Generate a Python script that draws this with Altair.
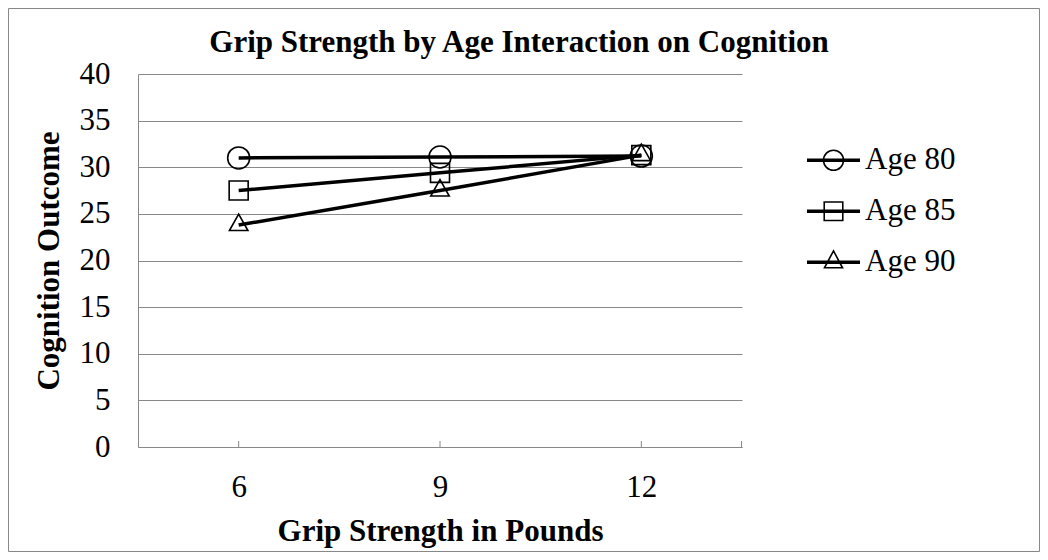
import altair as alt
import pandas as pd

# ---- data ----
grip = [6, 9, 12]
series = ["Age 80", "Age 85", "Age 90"]
age80 = [31.0, 31.1, 31.2]
age85 = [27.5, 29.4, 31.3]
age90 = [23.8, 27.5, 31.3]
y_ticks = [0, 5, 10, 15, 20, 25, 30, 35, 40]

rows = []
for s, vals in zip(series, [age80, age85, age90]):
    for g, v in zip(grip, vals):
        rows.append({"grip": g, "series": s, "value": v})
df = pd.DataFrame(rows)
tick_df = pd.DataFrame({"grip": grip})

# ---- layout ----
W, H = 604, 373
PL, PT, PR, PB = 130, 66, 298, 105
GRAY = "#888888"
FONT = "Liberation Serif"

# marker shapes (unit box, size 484 -> 11 px per unit)
marker_paths = [
    "M1,0A1,1 0 1,1 -1,0A1,1 0 1,1 1,0Z",
    "M-0.864,-0.864L0.864,-0.864L0.864,0.864L-0.864,0.864Z",
    "M0,-1L0.84,0.5L-0.84,0.5Z",
]
# legend symbols: line + marker (size 2809 -> 26.5 px per unit)
LINE = "M-1,0L1,0M-1,-0.035L1,-0.035M-1,0.035L1,0.035"
legend_paths = [
    LINE + "M0.377,0A0.377,0.377 0 1,1 -0.377,0A0.377,0.377 0 1,1 0.377,0Z",
    LINE + "M-0.35,-0.35L0.35,-0.35L0.35,0.35L-0.35,0.35Z",
    LINE + "M0,-0.43L0.34,0.21L-0.34,0.21Z",
]

x_enc = alt.X(
    "grip:O",
    scale=alt.Scale(type="point", padding=0.5),
    axis=alt.Axis(
        title="Grip Strength in Pounds",
        labelAngle=0,
        grid=False,
        ticks=False,
        tickSize=0,
        domainColor=GRAY,
        domainWidth=1,
        labelFontSize=31,
        labelColor="black",
        labelBaseline="alphabetic",
        labelPadding=49,
        titleFontSize=31,
        titleFontWeight="bold",
        titleColor="black",
        titleBaseline="alphabetic",
        titleY=93,
        titleX=W / 2,
    ),
)
y_axis = alt.Axis(
    title="Cognition Outcome",
    values=y_ticks,
    grid=True,
    ticks=False,
    tickSize=0,
    domainColor=GRAY,
    domainWidth=1,
    gridColor=GRAY,
    gridWidth=1,
    gridOpacity=1,
    labelFontSize=31,
    labelColor="black",
    labelPadding=28,
    titleFontSize=31,
    titleFontWeight="bold",
    titleColor="black",
    titleAngle=-90,
    titleBaseline="alphabetic",
    titleX=-80,
    titleY=H / 2,
)
y_enc = alt.Y("value:Q", scale=alt.Scale(domain=[0, 40]), axis=y_axis)

frame = alt.Chart(alt.Data(values=[{"k": 1}])).mark_rect(
    fill="transparent", stroke=GRAY, strokeWidth=1
).encode(
    x=alt.value(-PL + 0.5),
    x2=alt.value(W + PR - 0.5),
    y=alt.value(-PT + 0.5),
    y2=alt.value(H + PB - 0.5),
)

lines = alt.Chart(df).mark_line(color="black", strokeWidth=3.5).encode(
    x=x_enc, y=y_enc, detail="series:N"
)

ticks = alt.Chart(tick_df).mark_rule(color=GRAY, strokeWidth=1).encode(
    x=x_enc, y=alt.datum(0), y2=alt.datum(0.64)
)
end_tick = alt.Chart(tick_df).mark_rule(color=GRAY, strokeWidth=1).encode(
    x=alt.value(W - 0.5), y=alt.datum(0), y2=alt.datum(0.64)
)

points = alt.Chart(df).mark_point(
    filled=False, color="black", strokeWidth=1.6, size=484, opacity=1
).encode(
    x=x_enc,
    y=y_enc,
    shape=alt.Shape(
        "series:N",
        scale=alt.Scale(domain=series, range=marker_paths),
        legend=None,
    ),
)

legend_layer = alt.Chart(df).transform_filter("datum.value < -1000").mark_point(
    filled=False, color="black", strokeWidth=1.6
).encode(
    x=x_enc,
    y=y_enc,
    shape=alt.Shape(
        "series:N",
        scale=alt.Scale(domain=series, range=legend_paths),
        legend=alt.Legend(
            title=None,
            orient="none",
            legendX=668,
            legendY=61,
            symbolSize=2809,
            symbolStrokeWidth=1.6,
            symbolStrokeColor="black",
            symbolOpacity=1,
            labelFontSize=31,
            labelFont=FONT,
            labelColor="black",
            labelOffset=4,
            clipHeight=50.5,
            rowPadding=0,
            padding=0,
        ),
    ),
)

chart = (
    alt.layer(lines, frame, ticks, end_tick, points, legend_layer)
    .resolve_scale(shape="independent")
    .properties(
        width=W,
        height=H,
        autosize=alt.AutoSizeParams(type="none"),
        padding={"left": PL, "top": PT, "right": PR, "bottom": PB},
        title=alt.Title(
            "Grip Strength by Age Interaction on Cognition",
            fontSize=31,
            fontWeight="bold",
            font=FONT,
            color="black",
            anchor="middle",
            frame="group",
            baseline="alphabetic",
            dx=79,
            dy=75,
            offset=0,
        ),
    )
    .configure(font=FONT)
    .configure_view(strokeWidth=0)
)

chart.save("out.html", embed_options={"renderer": "svg", "actions": False})
